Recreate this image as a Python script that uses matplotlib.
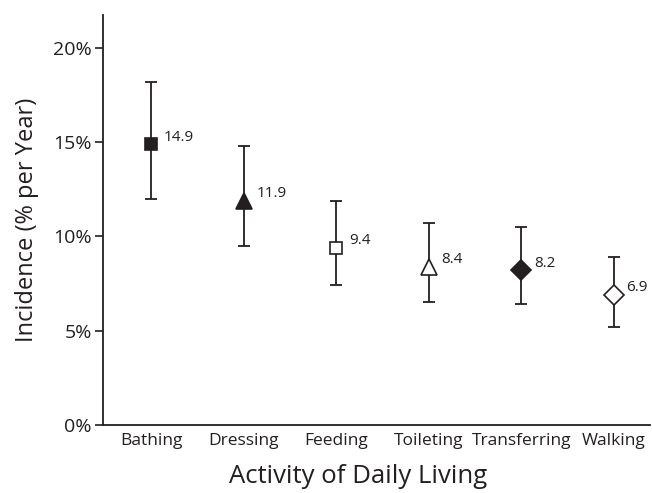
import matplotlib
matplotlib.use("Agg")
import matplotlib.pyplot as plt
from matplotlib.ticker import FuncFormatter

plt.rcParams['font.family'] = ['Open Sans', 'DejaVu Sans']

categories = ["Bathing", "Dressing", "Feeding", "Toileting", "Transferring", "Walking"]
incidence = [14.9, 11.9, 9.4, 8.4, 8.2, 6.9]
ci_low = [12.0, 9.5, 7.4, 6.5, 6.4, 5.2]
ci_high = [18.2, 14.8, 11.9, 10.7, 10.5, 8.9]
markers = ["s", "^", "s", "^", "D", "D"]
filled = [True, True, False, False, True, False]
msizes = [9, 12, 9, 12, 10, 10]

fig = plt.figure(figsize=(6.52, 4.93), dpi=100)
ax = fig.add_axes([0.158, 0.138, 0.839, 0.832])

for i, cat in enumerate(categories):
    v = incidence[i]
    ax.errorbar(i, v, yerr=[[v - ci_low[i]], [ci_high[i] - v]], fmt='none',
                ecolor='#231f20', elinewidth=1.3, capsize=4, capthick=1.3, zorder=1)
    ax.plot(i, v, marker=markers[i], markersize=msizes[i], linestyle='none',
            markerfacecolor='#231f20' if filled[i] else 'white',
            markeredgecolor='#231f20', markeredgewidth=1.2, zorder=2)
    ax.annotate(f"{v:.1f}", (i, v), xytext=(9, 5), textcoords='offset points',
                fontsize=11, color='#231f20', ha='left', va='center')

ax.set_xlim(-0.52, 5.39)
ax.set_ylim(0, 21.75)
ax.set_yticks([0, 5, 10, 15, 20])
ax.yaxis.set_major_formatter(FuncFormatter(lambda y, p: f"{int(y)}%"))
ax.set_xticks(range(len(categories)))
ax.set_xticklabels(categories, fontsize=12.5, color='#231f20')
ax.tick_params(axis='y', labelsize=14, length=6, width=1.2, colors='#231f20', pad=2)
ax.tick_params(axis='x', length=0, pad=6)

for s in ['top', 'right']:
    ax.spines[s].set_visible(False)
for s in ['left', 'bottom']:
    ax.spines[s].set_linewidth(1.3)
    ax.spines[s].set_color('#231f20')

ax.set_ylabel("Incidence (% per Year)", fontsize=17, color='#231f20', labelpad=10)
ax.set_xlabel("Activity of Daily Living", fontsize=18.5, color='#231f20')
ax.xaxis.set_label_coords(0.466, -0.095)

fig.savefig("out.png", dpi=100)
